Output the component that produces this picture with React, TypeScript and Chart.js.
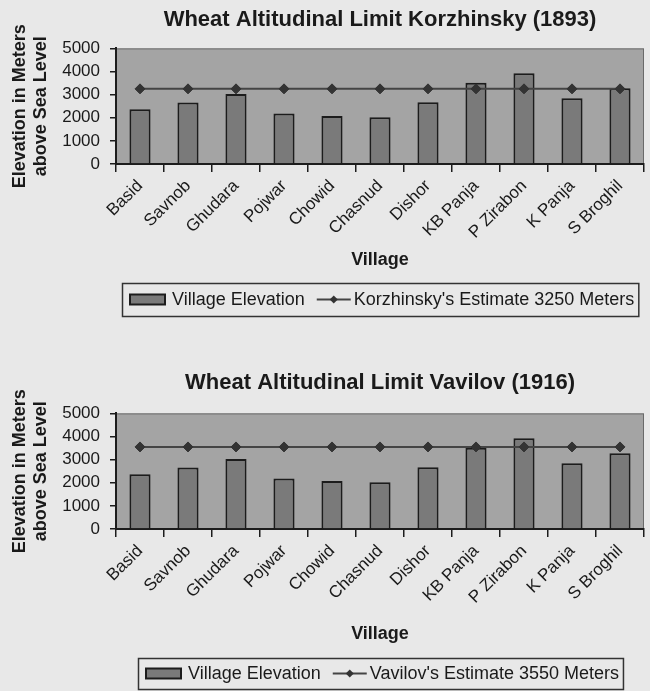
import React, { useEffect, useRef } from 'react';
import { Chart, registerables } from 'chart.js';

Chart.register(...registerables);

const FONT = '"Liberation Sans", Arial, Helvetica, sans-serif';

// ---- data ----
const villages = ['Basid', 'Savnob', 'Ghudara', 'Pojwar', 'Chowid', 'Chasnud', 'Dishor', 'KB Panja', 'P Zirabon', 'K Panja', 'S Broghil'];
const villageElevation = [2370, 2660, 3030, 2180, 2080, 2025, 2670, 3510, 3920, 2840, 3280];
const korzhinskyEstimate = [3250, 3250, 3250, 3250, 3250, 3250, 3250, 3250, 3250, 3250, 3250];
const vavilovEstimate = [3550, 3550, 3550, 3550, 3550, 3550, 3550, 3550, 3550, 3550, 3550];
const yTitle = ['Elevation in Meters', 'above Sea Level'];
const xTitle = 'Village';
const barLabel = 'Village Elevation';

const PAGE_BG = '#e8e8e8';
const PLOT_BG = '#a4a4a4';
const BAR_FILL = '#7a7a7a';
const DARK = '#1c1c1c';
const LINE = '#444444';

const plotBgPlugin = {
  id: 'plotBg',
  beforeDraw(chart: any) {
    const { ctx, chartArea: a } = chart;
    ctx.save();
    ctx.fillStyle = PLOT_BG;
    ctx.fillRect(a.left, a.top, a.right - a.left, a.bottom - a.top);
    ctx.strokeStyle = '#6a6a6a';
    ctx.lineWidth = 1;
    ctx.strokeRect(a.left + 0.5, a.top + 0.5, a.right - a.left - 1, a.bottom - a.top);
    ctx.restore();
  },
};

const boxLegendPlugin = {
  id: 'boxLegend',
  afterDraw(chart: any, _args: any, opts: any) {
    const { ctx, chartArea: a } = chart;
    ctx.save();
    ctx.font = `18px ${FONT}`;
    const w1 = ctx.measureText(opts.barLabel).width;
    const w2 = ctx.measureText(opts.lineLabel).width;
    const padL = 8, sw = 35, g1 = 7, g2 = 12, lw = 34, g3 = 3, padR = 4;
    const total = padL + sw + g1 + w1 + g2 + lw + g3 + w2 + padR;
    const cx = (a.left + a.right) / 2;
    const x0 = Math.round(cx - total / 2);
    const y0 = opts.top;
    const h = opts.height;
    const cy = y0 + h / 2;
    ctx.strokeStyle = '#333';
    ctx.lineWidth = 1.5;
    ctx.strokeRect(x0 + 0.5, y0 + 0.5, total, h);
    // bar swatch
    let x = x0 + padL;
    ctx.fillStyle = BAR_FILL;
    ctx.fillRect(x, cy - 5, sw, 10);
    ctx.strokeStyle = DARK;
    ctx.lineWidth = 2;
    ctx.strokeRect(x, cy - 5, sw, 10);
    x += sw + g1;
    ctx.fillStyle = '#1a1a1a';
    ctx.textBaseline = 'middle';
    ctx.textAlign = 'left';
    ctx.fillText(opts.barLabel, x, cy + 1);
    x += w1 + g2;
    // line swatch
    ctx.strokeStyle = LINE;
    ctx.lineWidth = 2;
    ctx.beginPath();
    ctx.moveTo(x, cy);
    ctx.lineTo(x + lw, cy);
    ctx.stroke();
    ctx.fillStyle = '#333';
    const dx = x + lw / 2;
    ctx.beginPath();
    ctx.moveTo(dx, cy - 4);
    ctx.lineTo(dx + 4, cy);
    ctx.lineTo(dx, cy + 4);
    ctx.lineTo(dx - 4, cy);
    ctx.closePath();
    ctx.fill();
    x += lw + g3;
    ctx.fillStyle = '#1a1a1a';
    ctx.fillText(opts.lineLabel, x, cy + 1);
    ctx.restore();
  },
};

type PanelProps = {
  title: string;
  estimate: number[];
  estimateLabel: string;
  top: number;
  height: number;
  titlePadTop: number;
  titlePadBottom: number;
  xHeight: number;
  padBottom: number;
  legendTop: number;
  legendHeight: number;
};

function ChartPanel(p: PanelProps) {
  const ref = useRef<HTMLCanvasElement | null>(null);
  useEffect(() => {
    if (!ref.current) return;
    const chart = new Chart(ref.current, {
      type: 'bar',
      data: {
        labels: villages,
        datasets: [
          {
            type: 'line',
            label: p.estimateLabel,
            data: p.estimate,
            borderColor: LINE,
            borderWidth: 2,
            backgroundColor: '#333',
            pointStyle: 'rectRot',
            pointRadius: 5,
            pointBackgroundColor: '#333',
            pointBorderColor: '#333',
            pointBorderWidth: 1,
            order: 0,
          } as any,
          {
            type: 'bar',
            label: barLabel,
            data: villageElevation,
            backgroundColor: BAR_FILL,
            borderColor: DARK,
            borderWidth: 2,
            barPercentage: 0.44,
            categoryPercentage: 1,
            order: 1,
          } as any,
        ],
      },
      options: {
        responsive: false,
        animation: false,
        devicePixelRatio: 1,
        layout: { padding: { left: 0, right: 5, top: 0, bottom: p.padBottom } },
        plugins: {
          legend: { display: false },
          tooltip: { enabled: false },
          title: {
            display: true,
            text: p.title,
            fullSize: false,
            color: '#1a1a1a',
            font: { family: FONT, size: 22, weight: 'bold' },
            padding: { top: p.titlePadTop, bottom: p.titlePadBottom },
          },
          boxLegend: {
            barLabel,
            lineLabel: p.estimateLabel,
            top: p.legendTop,
            height: p.legendHeight,
          },
        } as any,
        scales: {
          x: {
            afterFit: (s: any) => { s.height = p.xHeight; },
            grid: { drawOnChartArea: false, drawTicks: true, tickLength: 8, color: DARK, lineWidth: 1.5, offset: true },
            border: { display: true, color: DARK, width: 2 },
            ticks: {
              autoSkip: false,
              minRotation: 45,
              maxRotation: 45,
              padding: 4,
              color: '#1a1a1a',
              font: { family: FONT, size: 17 },
            },
            title: {
              display: true,
              text: xTitle,
              color: '#1a1a1a',
              font: { family: FONT, size: 18, weight: 'bold' },
              padding: { top: 4, bottom: 4 },
            },
          },
          y: {
            min: 0,
            max: 5000,
            afterFit: (s: any) => { s.width = 116; },
            grid: { drawOnChartArea: false, drawTicks: true, tickLength: 6, color: DARK, lineWidth: 1.5 },
            border: { display: true, color: DARK, width: 2 },
            ticks: {
              stepSize: 1000,
              autoSkip: false,
              maxTicksLimit: 11,
              padding: 10,
              color: '#1a1a1a',
              font: { family: FONT, size: 17 },
              callback: (v: any) => String(v),
            },
            title: {
              display: true,
              text: yTitle,
              color: '#1a1a1a',
              font: { family: FONT, size: 18, weight: 'bold' },
              padding: { top: 9, bottom: 0 },
            },
          },
        },
      } as any,
      plugins: [plotBgPlugin, boxLegendPlugin],
    });
    return () => chart.destroy();
  }, []);
  return (
    <canvas
      ref={ref}
      width={650}
      height={p.height}
      style={{ position: 'absolute', left: 0, top: p.top, width: 650, height: p.height }}
    />
  );
}

export default function App() {
  useEffect(() => {
    document.body.style.margin = '0';
    document.body.style.background = PAGE_BG;
  }, []);
  return (
    <div style={{ position: 'relative', width: 650, height: 691, background: PAGE_BG, overflow: 'hidden' }}>
      <ChartPanel
        title="Wheat Altitudinal Limit Korzhinsky (1893)"
        estimate={korzhinskyEstimate}
        estimateLabel="Korzhinsky's Estimate 3250 Meters"
        top={0}
        height={330}
        titlePadTop={7}
        titlePadBottom={15}
        xHeight={111}
        padBottom={55}
        legendTop={283}
        legendHeight={33}
      />
      <ChartPanel
        title="Wheat Altitudinal Limit Vavilov (1916)"
        estimate={vavilovEstimate}
        estimateLabel="Vavilov's Estimate 3550 Meters"
        top={362}
        height={329}
        titlePadTop={8}
        titlePadBottom={17}
        xHeight={120}
        padBottom={42}
        legendTop={296}
        legendHeight={31}
      />
    </div>
  );
}
